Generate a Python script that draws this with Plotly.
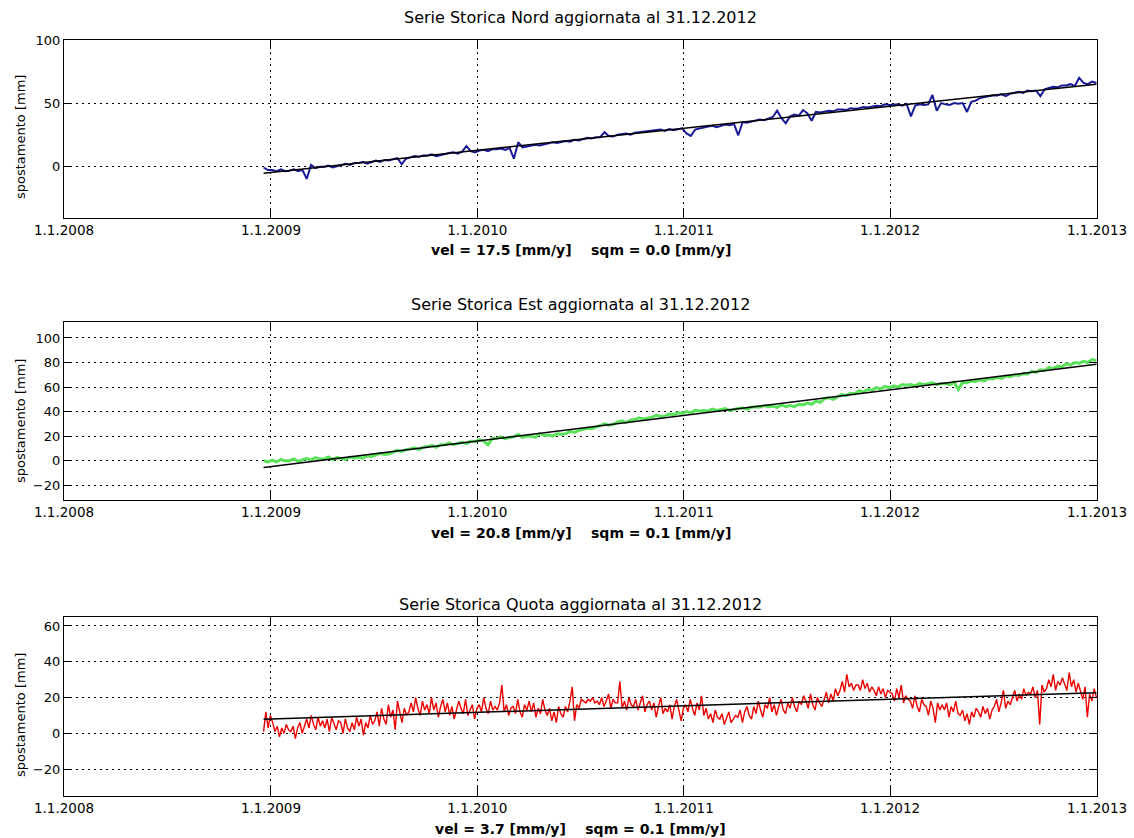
import pandas as pd
import plotly.graph_objects as go

# ---------------- data ----------------
start_date = "2008-12-19"
end_date = "2012-12-31"

tick_dates = ["2008-01-01", "2009-01-01", "2010-01-01", "2011-01-01", "2012-01-01", "2013-01-01"]
tick_labels = ["1.1.2008", "1.1.2009", "1.1.2010", "1.1.2011", "1.1.2012", "1.1.2013"]

nord_mm = [
    -1, -3,
    -3, -4, -2.5, -4,
    -3.5, -2.5, -4, -3,
    -10, 1, -1.5, -0.5,
    -0.5, 0.5, -1, 0,
    1.5, 2, 1, 2.5,
    2.5, 3.5, 2, 3,
    4.5, 3.5, 5, 4.5,
    5.5, 6.5, 1.5, 6,
    7, 8, 7.5, 8.5,
    8.5, 9.5, 8, 9,
    10, 10.5, 11, 10,
    11.5, 16, 12, 11,
    12.5, 13, 12, 13.5,
    13.5, 14, 13, 14.5,
    6, 19, 15, 15.5,
    16, 17, 16.5, 17.5,
    18, 19, 18.5, 19.5,
    20, 19.5, 21, 20.5,
    21.5, 22.5, 22, 23,
    23, 27, 24, 23.5,
    25, 25.5, 26, 25,
    26.5, 27, 27.5, 28,
    28, 28.5, 29, 28,
    29.5, 28.5, 29, 30,
    26, 24, 29, 30,
    31, 31.5, 32, 31,
    32, 33, 32.5, 33.5,
    24.5, 35, 34.5, 35.5,
    36, 37, 36.5, 38,
    39, 44, 38, 34,
    39.5, 41, 40, 44.5,
    42, 36, 43, 42.5,
    43, 44, 43.5, 45,
    45, 44.5, 46, 45.5,
    46, 47, 46.5, 47.5,
    48, 47.5, 49, 48.5,
    48.5, 49, 48, 49.5,
    39.5, 48, 49, 48.5,
    49, 56.5, 44, 50,
    49, 48.5, 50, 49.5,
    50, 43, 51, 52,
    54, 55, 55.5, 56,
    56, 57, 55.5, 57.5,
    58.5, 59, 58, 60,
    59.5, 60, 55.5, 61,
    62, 63, 62.5, 64,
    64, 65, 63.5, 70,
    66, 65, 67, 66,
]

est_mm = [
    0, -1,
    0.5, -1, 1, 0,
    0, 1.5, -0.5, 1,
    2, 0.5, 2.5, 1.5,
    1.5, 3, 1, 2.5,
    2, 1, 3, 2,
    3, 2, 4, 3.5,
    4.5, 6, 5, 5.5,
    7, 8.5, 7.5, 9,
    9.5, 10.5, 9, 11,
    11.5, 12.5, 11, 13,
    13, 14.5, 13, 14,
    15, 14, 16, 15.5,
    17, 16, 13, 18,
    18, 19.5, 18, 19,
    19.5, 21.5, 19, 20,
    20, 19, 22, 20.5,
    21, 20, 22, 21.5,
    22, 24, 23, 24.5,
    25.5, 26.5, 26, 27.5,
    28.5, 30, 29, 29.5,
    31.5, 32.5, 31, 33,
    33.5, 35, 34, 34.5,
    35.5, 37, 36, 36.5,
    38, 37.5, 39, 38.5,
    40, 39, 41, 40.5,
    41, 40.5, 42, 41,
    41.5, 42.5, 41, 42,
    42.5, 43, 42, 43.5,
    44, 43.5, 45, 44,
    44.5, 43.5, 45.5, 44,
    45, 44, 46, 45.5,
    47, 46, 48.5, 47.5,
    50.5, 51.5, 50, 52,
    54, 53, 55, 54.5,
    57, 56, 58, 57.5,
    59.5, 58.5, 60.5, 59.5,
    61, 60, 62, 61.5,
    62, 61, 63, 62,
    62.5, 63.5, 62, 63,
    63, 62, 64, 58,
    64, 63.5, 65, 64.5,
    66, 65, 67, 66.5,
    68, 67, 69, 68.5,
    70, 69.5, 71, 70.5,
    73, 72, 74, 73.5,
    76, 75, 77, 76.5,
    79, 78, 80, 79.5,
    81, 80, 82.5, 81.5,
]

quota_mm = [
    1, 12, 3, 10,
    6, 1, 4, -2, 3, 0, 5, 2,
    1, 4, -3, 3, 6, 0, 4,
    8, 3, 10, 5, 2, 9, 4, 7,
    3, 8, 1, 9, 5, 2, 7,
    6, 0, 8, 3, 1, 6, 2, 9,
    4, 8, -1, 6, 3, 10, 5,
    7, 12, 4, 14, 8, 5, 16, 9,
    13, 2, 18, 11, 6, 14, 10, 12,
    17, 12, 20, 14, 10, 18, 13,
    16, 11, 20, 13, 17, 9, 15, 19,
    12, 17, 10, 15, 8, 14, 18,
    14, 11, 19, 10, 13, 16, 8, 14,
    16, 12, 20, 14, 11, 18, 13, 15,
    13, 17, 27, 12, 16, 10, 14,
    15, 11, 19, 12, 9, 16, 13, 18,
    12, 17, 9, 14, 11, 19, 13,
    10, 14, 7, 12, 6, 15, 11, 9,
    15, 12, 18, 26, 7, 16, 14,
    19, 18, 17, 19, 18, 20, 17, 18,
    16, 20, 15, 18, 22, 14, 19, 17,
    17, 29, 14, 18, 13, 20, 16,
    15, 19, 13, 17, 21, 12, 16, 18,
    13, 17, 9, 15, 20, 11, 14,
    12, 16, 8, 15, 19, 13, 7, 14,
    16, 12, 19, 14, 10, 17, 13, 21,
    10, 14, 8, 11, 6, 13, 9,
    8, 11, 5, 9, 12, 6, 8, 10,
    9, 13, 6, 12, 15, 10, 8,
    15, 11, 18, 13, 9, 16, 14, 20,
    12, 16, 10, 15, 19, 13, 11,
    17, 14, 20, 15, 12, 18, 16, 21,
    18, 14, 22, 16, 13, 20, 17, 15,
    19, 23, 17, 22, 18, 25, 21,
    24, 29, 23, 33, 26, 28, 24, 27,
    27, 24, 30, 25, 28, 23, 26,
    24, 21, 26, 22, 25, 20, 24, 23,
    22, 18, 25, 20, 27, 17, 21, 19,
    18, 14, 21, 15, 12, 19, 16,
    15, 10, 18, 14, 6, 17, 13, 16,
    13, 17, 9, 15, 12, 18, 11,
    10, 13, 7, 11, 5, 12, 9, 14,
    12, 9, 15, 11, 14, 8, 13,
    15, 19, 12, 17, 24, 14, 18, 16,
    20, 24, 18, 22, 19, 25, 21, 23,
    22, 26, 20, 24, 5, 27, 23,
    25, 30, 26, 33, 24, 29, 27, 31,
    28, 24, 34, 26, 30, 23, 28,
    24, 19, 26, 9, 22, 18, 25, 20,
]

nord_trend = [-5.5, 65.0]
est_trend = [-5.5, 78.5]
quota_trend = [7.9, 22.7]

titles = [
    "Serie Storica Nord aggiornata al 31.12.2012",
    "Serie Storica Est aggiornata al 31.12.2012",
    "Serie Storica Quota aggiornata al 31.12.2012",
]
stats = [
    "vel = 17.5 [mm/y]&nbsp;&nbsp;&nbsp; sqm = 0.0 [mm/y]",
    "vel = 20.8 [mm/y]&nbsp;&nbsp;&nbsp; sqm = 0.1 [mm/y]",
    "vel = 3.7 [mm/y]&nbsp;&nbsp;&nbsp; sqm = 0.1 [mm/y]",
]
y_ranges = [[-41, 100], [-32, 113], [-35, 65]]
y_ticks = [[0, 50, 100], [-20, 0, 20, 40, 60, 80, 100], [-20, 0, 20, 40, 60]]
series = [nord_mm, est_mm, quota_mm]
trends = [nord_trend, est_trend, quota_trend]
colors = ["rgb(25,25,150)", "rgb(90,225,90)", "rgb(235,0,0)"]
widths = [2.0, 3.0, 1.4]

# ---------------- layout geometry (pixels) ----------------
W, H = 1134, 838
x_left, x_right = 64, 1097
panels_px = [(40, 218), (322, 500), (617, 796)]
title_y = [17, 305, 604]
stat_y = [250, 533, 829]
ylab_y = [137, 421, 715]

FONT = "DejaVu Sans"

fig = go.Figure()
annotations = []

for i in range(3):
    vals = series[i]
    dates = pd.date_range(start_date, end_date, periods=len(vals))
    xa = "x" if i == 0 else f"x{i+1}"
    ya = "y" if i == 0 else f"y{i+1}"
    fig.add_trace(go.Scatter(
        x=dates, y=vals, mode="lines", xaxis=xa, yaxis=ya,
        line=dict(color=colors[i], width=widths[i]), showlegend=False, hoverinfo="skip"))
    fig.add_trace(go.Scatter(
        x=[start_date, end_date], y=trends[i], mode="lines", xaxis=xa, yaxis=ya,
        line=dict(color="black", width=1.5), showlegend=False, hoverinfo="skip"))

    top, bot = panels_px[i]
    dom_y = [1 - bot / H, 1 - top / H]
    dom_x = [x_left / W, x_right / W]
    xkey = "xaxis" if i == 0 else f"xaxis{i+1}"
    ykey = "yaxis" if i == 0 else f"yaxis{i+1}"
    fig.layout[xkey] = dict(
        domain=dom_x, anchor=ya, type="date",
        range=[tick_dates[0], tick_dates[-1]],
        tickmode="array", tickvals=tick_dates, ticktext=tick_labels,
        ticks="inside", ticklen=9, tickcolor="black", tickwidth=1,
        showline=True, linecolor="black", linewidth=1.2, mirror="ticks",
        showgrid=True, gridcolor="black", gridwidth=1, griddash="2px,4px",
        zeroline=False, automargin=False,
        tickfont=dict(family=FONT, size=13.5, color="black"),
    )
    fig.layout[ykey] = dict(
        domain=dom_y, anchor=xa, range=y_ranges[i],
        tickmode="array", tickvals=y_ticks[i],
        ticks="inside", ticklen=8, tickcolor="black", tickwidth=1,
        showline=True, linecolor="black", linewidth=1.2, mirror="ticks",
        showgrid=True, gridcolor="black", gridwidth=1, griddash="2px,4px",
        zeroline=False, automargin=False,
        tickfont=dict(family=FONT, size=13, color="black"),
    )
    annotations.append(dict(
        text=titles[i], x=(x_left + x_right) / 2 / W, y=1 - title_y[i] / H,
        xref="paper", yref="paper", showarrow=False, xanchor="center", yanchor="middle",
        font=dict(family=FONT, size=16, color="black")))
    annotations.append(dict(
        text="<b>" + stats[i] + "</b>", x=(x_left + x_right) / 2 / W, y=1 - stat_y[i] / H,
        xref="paper", yref="paper", showarrow=False, xanchor="center", yanchor="middle",
        font=dict(family=FONT, size=14, color="black")))
    annotations.append(dict(
        text="spostamento [mm]", x=20 / W, y=1 - ylab_y[i] / H, textangle=-90,
        xref="paper", yref="paper", showarrow=False, xanchor="center", yanchor="middle",
        font=dict(family=FONT, size=13, color="black")))

fig.update_layout(
    width=W, height=H,
    margin=dict(l=0, r=0, t=0, b=0),
    paper_bgcolor="white", plot_bgcolor="white",
    showlegend=False,
    annotations=annotations,
)

fig.write_html("out.html")
